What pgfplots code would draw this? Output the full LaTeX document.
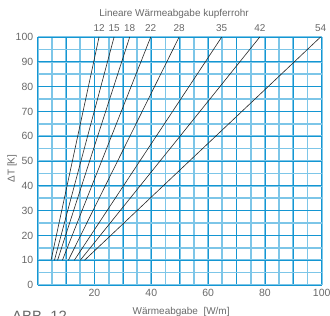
\documentclass[border=0pt]{standalone}
\usepackage{fontspec}
\setmainfont{Liberation Sans}
\usepackage{pgfplots}
\pgfplotsset{compat=1.18}
\definecolor{gridDark}{RGB}{20,150,210}
\definecolor{gridLight}{RGB}{125,198,232}
\definecolor{txt}{RGB}{105,105,105}
\begin{document}
\begin{tikzpicture}
\useasboundingbox (-37.7bp,-31bp) rectangle (292.3bp,285bp);
\begin{axis}[
  scale only axis, width=284bp, height=248bp,
  clip=false,
  xmin=0, xmax=100, ymin=0, ymax=100,
  xtick={0,10,...,100}, xticklabels={,,20,,40,,60,,80,,100},
  ytick={0,10,...,100},
  minor xtick={0,5,...,100}, minor ytick={0,5,...,100},
  grid=both,
  minor grid style={draw=gridLight, line width=1.7bp},
  major grid style={draw=gridDark, line width=0.8bp},
  axis line style={draw=none},
  major tick length=0pt, minor tick length=0pt,
  tick style={draw=none},
  /pgf/number format/assume math mode=true,
  ticklabel style={font=\fontsize{10.5}{12}\selectfont, text=txt},
  yticklabel style={xshift=-1bp},
  xticklabel style={yshift=-0.5bp},
  xlabel={Wärmeabgabe\ \ [W/m]},
  xlabel style={at={(axis description cs:0.505,0)}, anchor=center, yshift=-26.5bp, font=\fontsize{10}{12}\selectfont, text=txt},
  ylabel={ΔT [K]},
  ylabel style={at={(axis description cs:0,0.47)}, anchor=center, yshift=25.7bp, font=\fontsize{10}{12}\selectfont, text=txt},
]
\addplot[black!85, line width=0.6bp] coordinates {(4.7,10) (21.6,100)};
\addplot[black!85, line width=0.6bp] coordinates {(5.9,10) (26.9,100)};
\addplot[black!85, line width=0.6bp] coordinates {(7.0,10) (32.4,100)};
\addplot[black!85, line width=0.6bp] coordinates {(8.7,10) (39.8,100)};
\addplot[black!85, line width=0.6bp] coordinates {(10.8,10) (49.8,100)};
\addplot[black!85, line width=0.6bp] coordinates {(12.9,10) (64.8,100)};
\addplot[black!85, line width=0.6bp] coordinates {(15.0,10) (78.2,100)};
\addplot[black!85, line width=0.6bp] coordinates {(16.5,10) (99.6,100)};
\begin{scope}[every node/.style={anchor=base, yshift=5bp, font=\fontsize{10}{12}\selectfont, text=txt, inner sep=0pt}]
\node at (axis cs:21.6,100) {12};
\node at (axis cs:26.9,100) {15};
\node at (axis cs:32.4,100) {18};
\node at (axis cs:39.8,100) {22};
\node at (axis cs:49.8,100) {28};
\node at (axis cs:64.8,100) {35};
\node at (axis cs:78.2,100) {42};
\node at (axis cs:99.6,100) {54};
\end{scope}
\node[anchor=center, font=\fontsize{10}{12}\selectfont, text=txt] at (axis description cs:0.48,1) [yshift=23bp] {Lineare Wärmeabgabe kupferrohr};
\end{axis}
\node[anchor=north west, inner sep=0pt, font=\fontsize{15}{18}\selectfont, text=txt] at (-25.7bp,-26bp) {ABB. 12};
\end{tikzpicture}
\end{document}
